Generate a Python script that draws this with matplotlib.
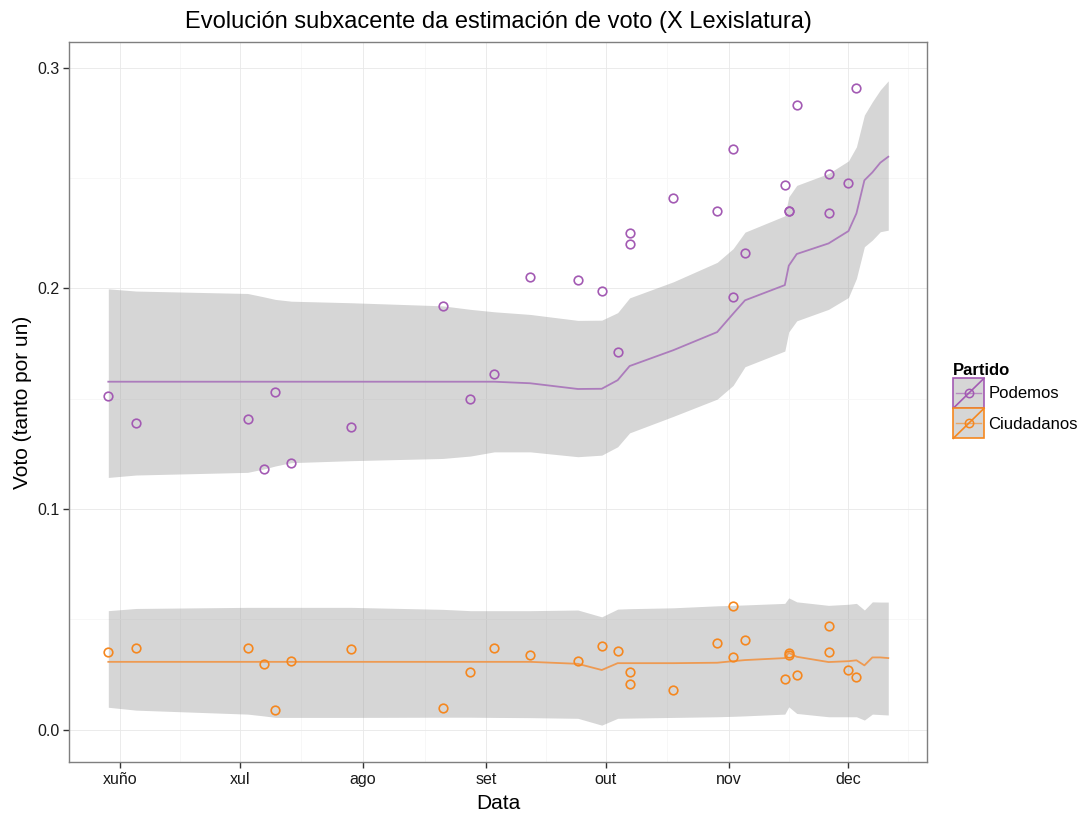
import matplotlib
matplotlib.use("Agg")
import matplotlib.pyplot as plt
import matplotlib.dates as mdates
from matplotlib.legend_handler import HandlerBase
from matplotlib.lines import Line2D
from matplotlib.patches import Rectangle
from matplotlib.ticker import FixedLocator, MultipleLocator
import numpy as np
import pandas as pd

plt.rcParams['font.family'] = ['Liberation Sans', 'DejaVu Sans']

# --- polls (points) ---
poll_dates = pd.to_datetime([
    "2015-05-29", "2015-06-05", "2015-07-03", "2015-07-07", "2015-07-10",
    "2015-07-14", "2015-07-29", "2015-08-21", "2015-08-28", "2015-09-03",
    "2015-09-12", "2015-09-24", "2015-09-30", "2015-10-04", "2015-10-07",
    "2015-10-07", "2015-10-18", "2015-10-29", "2015-11-02", "2015-11-02",
    "2015-11-05", "2015-11-15", "2015-11-16", "2015-11-16", "2015-11-18",
    "2015-11-26", "2015-11-26", "2015-12-01", "2015-12-03",
])
podemos_polls = [0.151, 0.139, 0.141, 0.118, 0.153, 0.121, 0.137, 0.192, 0.150, 0.161,
                 0.205, 0.204, 0.199, 0.171, 0.225, 0.220, 0.241, 0.235, 0.263, 0.196,
                 0.216, 0.247, 0.235, 0.235, 0.283, 0.252, 0.234, 0.248, 0.291]
ciudadanos_polls = [0.035, 0.0368, 0.0369, 0.0298, 0.0088, 0.031, 0.0365, 0.0099, 0.0259, 0.0369,
                    0.0339, 0.031, 0.0379, 0.0354, 0.0259, 0.0208, 0.018, 0.0391, 0.0561, 0.033,
                    0.0404, 0.0229, 0.0338, 0.0345, 0.0249, 0.0469, 0.035, 0.0268, 0.0239]

# --- underlying estimate (line + interval) ---
est_dates = pd.to_datetime([
    "2015-05-29", "2015-06-05", "2015-07-03", "2015-07-07", "2015-07-10",
    "2015-07-14", "2015-07-29", "2015-08-21", "2015-08-28", "2015-09-03",
    "2015-09-12", "2015-09-24", "2015-09-30", "2015-10-04", "2015-10-07",
    "2015-10-18", "2015-10-29", "2015-11-02", "2015-11-05", "2015-11-15",
    "2015-11-16", "2015-11-18", "2015-11-26", "2015-12-01", "2015-12-03",
    "2015-12-05", "2015-12-07", "2015-12-09", "2015-12-11",
])
podemos_mean = [0.1577, 0.1577, 0.1577, 0.1577, 0.1577, 0.1577, 0.1577, 0.1577, 0.1577, 0.1577,
                0.1570, 0.1544, 0.1545, 0.1584, 0.1648, 0.1720, 0.1802, 0.1885, 0.1946, 0.2015,
                0.2103, 0.2156, 0.2204, 0.2260, 0.2340, 0.2490, 0.2526, 0.2570, 0.2597]
podemos_hi = [0.1998, 0.1988, 0.1977, 0.1962, 0.1950, 0.1942, 0.1935, 0.1921, 0.1905, 0.1894,
              0.1882, 0.1855, 0.1856, 0.1890, 0.1957, 0.2030, 0.2118, 0.2180, 0.2255, 0.2329,
              0.2415, 0.2467, 0.2521, 0.2578, 0.2642, 0.2786, 0.2846, 0.2900, 0.2941]
podemos_lo = [0.1143, 0.1154, 0.1166, 0.1181, 0.1195, 0.1210, 0.1219, 0.1229, 0.1240, 0.1259,
              0.1259, 0.1237, 0.1244, 0.1282, 0.1345, 0.1420, 0.1498, 0.1560, 0.1645, 0.1716,
              0.1803, 0.1853, 0.1905, 0.1959, 0.2045, 0.2189, 0.2219, 0.2257, 0.2264]
ciudadanos_mean = [0.0307, 0.0307, 0.0307, 0.0307, 0.0307, 0.0307, 0.0307, 0.0307, 0.0307, 0.0307,
                   0.0307, 0.0298, 0.0270, 0.0301, 0.0301, 0.0301, 0.0303, 0.0310, 0.0315, 0.0324,
                   0.0348, 0.0330, 0.0306, 0.0310, 0.0314, 0.0291, 0.0327, 0.0327, 0.0324]
ciudadanos_hi = [0.0539, 0.0549, 0.0554, 0.0554, 0.0554, 0.0554, 0.0554, 0.0545, 0.0539, 0.0539,
                 0.0539, 0.0542, 0.0511, 0.0546, 0.0548, 0.0552, 0.0561, 0.0563, 0.0565, 0.0572,
                 0.0597, 0.0579, 0.0563, 0.0568, 0.0572, 0.0542, 0.0579, 0.0578, 0.0578]
ciudadanos_lo = [0.0101, 0.0088, 0.0070, 0.0062, 0.0055, 0.0055, 0.0055, 0.0056, 0.0056, 0.0055,
                 0.0054, 0.0051, 0.0020, 0.0051, 0.0052, 0.0055, 0.0058, 0.0060, 0.0062, 0.0070,
                 0.0103, 0.0073, 0.0058, 0.0058, 0.0058, 0.0043, 0.0070, 0.0068, 0.0066]

month_ticks = pd.to_datetime(["2015-06-01", "2015-07-01", "2015-08-01", "2015-09-01",
                              "2015-10-01", "2015-11-01", "2015-12-01"])
month_labels = ["xuño", "xul", "ago", "set", "out", "nov", "dec"]

parties = ["Podemos", "Ciudadanos"]
colors = {"Podemos": "#A35AB3", "Ciudadanos": "#F5871F"}
line_colors = {"Podemos": "#AC7CBC", "Ciudadanos": "#EE9A52"}

series = {
    "Podemos": (podemos_polls, podemos_mean, podemos_lo, podemos_hi),
    "Ciudadanos": (ciudadanos_polls, ciudadanos_mean, ciudadanos_lo, ciudadanos_hi),
}

fig = plt.figure(figsize=(10.83, 8.16), dpi=100)
ax = fig.add_axes([0.064, 0.0662, 0.7922, 0.8823])

for p in parties:
    polls, mean, lo, hi = series[p]
    ax.fill_between(est_dates, lo, hi, color="#999999", alpha=0.4, lw=0, zorder=2)
    ax.plot(est_dates, mean, color=line_colors[p], lw=1.3, zorder=3)
    ax.plot(poll_dates, polls, ls="none", marker="o", ms=6.2, mfc="none",
            mec=colors[p], mew=1.2, zorder=4)

# axis limits (ggplot-style 5% expansion on x)
x0 = mdates.date2num(est_dates.min())
x1 = mdates.date2num(est_dates.max())
pad = 0.05 * (x1 - x0)
ax.set_xlim(x0 - pad, x1 + pad)
ax.set_ylim(-0.0147, 0.3117)

ax.set_xticks(mdates.date2num(month_ticks))
ax.set_xticklabels(month_labels)
mt = mdates.date2num(month_ticks)
mids = list((mt[:-1] + mt[1:]) / 2) + [mt[-1] + 15]
ax.xaxis.set_minor_locator(FixedLocator(mids))
ax.yaxis.set_major_locator(MultipleLocator(0.1))
ax.yaxis.set_minor_locator(MultipleLocator(0.05))
ax.yaxis.set_major_formatter(plt.FuncFormatter(lambda v, _: f"{v:.1f}"))

ax.grid(which="major", color="#E8E8E8", lw=0.6, zorder=0)
ax.grid(which="minor", color="#F6F6F6", lw=0.6, zorder=0)
ax.set_axisbelow(True)
for s in ax.spines.values():
    s.set_color("#7F7F7F")
    s.set_linewidth(1.0)
ax.tick_params(which="major", length=4, width=1, color="#333333", labelsize=11.5,
               labelcolor="#1A1A1A", pad=3)
ax.tick_params(which="minor", length=0)

ax.set_xlabel("Data", fontsize=15, labelpad=5)
ax.set_ylabel("Voto (tanto por un)", fontsize=15, labelpad=4)
ax.set_title("Evolución subxacente da estimación de voto (X Lexislatura)", fontsize=17, pad=10)


class RibbonKey(HandlerBase):
    def create_artists(self, legend, orig_handle, xdescent, ydescent, width, height,
                       fontsize, trans):
        c = orig_handle.get_color()
        x, y = -xdescent, -ydescent
        rect = Rectangle((x, y), width, height, facecolor="#D6D6D6", edgecolor=c,
                         lw=1.2, transform=trans)
        diag = Line2D([x, x + width], [y, y + height], color=c, lw=1.2, transform=trans)
        hl = Line2D([x + 2, x + width - 2], [y + height / 2] * 2, color=c, alpha=0.6,
                    lw=1.0, transform=trans)
        pt = Line2D([x + width / 2], [y + height / 2], marker="o", ms=6, mfc="none",
                    mec=c, mew=1.1, transform=trans)
        return [rect, diag, hl, pt]


handles = [Line2D([], [], color=colors[p]) for p in parties]
leg = fig.legend(handles, parties, handler_map={Line2D: RibbonKey()},
                 loc="upper left", bbox_to_anchor=(0.874, 0.563),
                 frameon=False, fontsize=12, title="Partido",
                 title_fontproperties={"weight": "bold", "size": 12},
                 handlelength=1.85, handleheight=2.4, labelspacing=0.0,
                 handletextpad=0.25, borderaxespad=0)
leg._legend_box.align = "left"

fig.savefig("out.png", dpi=100)
